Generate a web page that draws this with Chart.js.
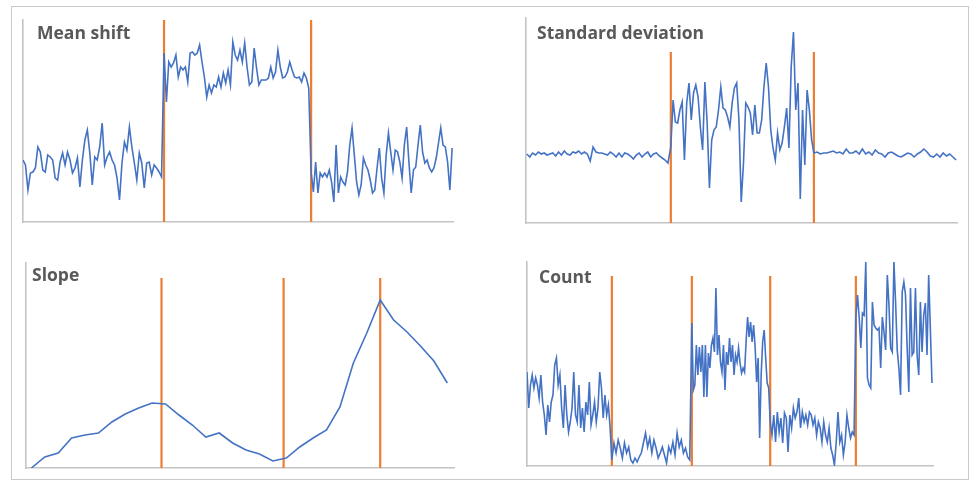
<!DOCTYPE html>
<html>
<head>
<meta charset="utf-8">
<script src="https://cdn.jsdelivr.net/npm/chart.js@4.4.1/dist/chart.umd.min.js"></script>
<style>
  html, body { margin: 0; padding: 0; background: #fff; }
  body { width: 971px; height: 481px; position: relative; overflow: hidden; }
  .frame { position: absolute; left: 11px; top: 6px; width: 956px; height: 472px; border: 1px solid #cacaca; }
  canvas { position: absolute; }
  .ttl { position: absolute; font-family: "Open Sans", sans-serif; font-weight: 700; font-size: 17.5px; line-height: 18px; color: #595959; white-space: nowrap; }
</style>
</head>
<body>
<div class="frame"></div>
<canvas id="cMean" width="438" height="210" style="left:19px;top:16px"></canvas>
<canvas id="cStd" width="439" height="213" style="left:522px;top:14px"></canvas>
<canvas id="cSlope" width="436" height="213" style="left:22px;top:259px"></canvas>
<canvas id="cCount" width="414" height="212" style="left:523px;top:258px"></canvas>
<div class="ttl" style="left:37px;top:23px">Mean shift</div>
<div class="ttl" style="left:537px;top:23px">Standard deviation</div>
<div class="ttl" style="left:32px;top:265px">Slope</div>
<div class="ttl" style="left:539px;top:267px">Count</div>
<script>
// values (height above the x axis, arbitrary units)
const meanSeg1 = [62,57,32,49,50,54,75,70,52,50,67,65,62,44,42,60,69,57,70,62,49,54,64,35,62,82,92,69,37,65,62,75,99,57,65,70,62,57,44,22,59,80,72,95,75,59,42,69,59,34,59,60,47,57,54,50,45];
const meanSeg2 = [169,120,160,155,159,167,145,155,152,155,140,169,170,167,169,177,160,145,125,137,129,137,135,145,135,149,139,152,137,180,167,162,172,160,179,155,137,140,174,154,137,142,142,142,144,155,144,150,172,155,144,145,150,160,152,145,144,145,140,149,144,134];
const meanSeg3 = [50,30,60,29,49,45,49,45,52,40,20,77,29,45,40,37,50,77,94,67,40,27,37,64,57,52,42,29,32,54,74,44,29,67,89,70,52,72,70,60,44,77,95,60,29,52,55,77,97,70,59,62,54,50,54,64,79,94,77,75,60,32,74];
const meanBounds = [0, 32.8, 67.0, 99.8];

const stdSeg1 = [69,66,70,68,71,69,70,68,69,70,67,71,68,72,69,68,71,70,72,69,71,69,62,76,71,70,70,69,68,71,69,66,70,66,70,69,67,64,68,70,66,69,71,66,69,70,67,65,63,60];
const stdSeg2 = [76,123,101,100,113,121,63,120,140,103,130,138,126,96,73,141,100,35,83,93,96,113,136,115,113,106,96,120,135,140,103,21,60,120,116,110,88,118,90,90,103,136,160,136,93,75,63,90,73,80,96,115,75,156,191,113,140,24,113,58,133,113,83];
const stdSeg3 = [70,71,69,70,70,71,72,70,71,69,74,70,70,72,69,74,69,71,68,73,70,69,66,70,71,69,67,66,68,70,69,66,69,71,74,71,67,66,69,66,70,67,69,66,63];
const stdBounds = [0.2, 33.6, 66.8, 99.8];

const slopeValues = [0,11,15,30,33,35,46,54,60,65,64,53,43,31,35,25,18,14,7,10,21,30,38,61,105,135,168,148,136,122,107,85];
const slopeChanges = [9.7, 18.8, 26.0];

const countSeg1 = [94,58,81,91,78,88,81,68,91,64,51,31,61,44,64,71,101,108,81,91,58,38,81,51,34,44,58,94,51,44,81,38,58,34,64,51,84,41,51,64,44,58,94,78,48,71,51,61,38];
const countSeg2 = [6,23,13,26,18,8,23,13,19,6,3,8,4,9,13,23,33,19,28,13,26,18,8,13,19,11,3,19,13,24,11,33,19,26,13,18,9,6];
const countSeg3 = [143,76,81,121,91,119,94,121,69,121,69,113,98,121,128,114,178,111,131,104,94,121,76,114,101,128,104,121,91,111,104,118,103,93,98,94,124,149,129,144,124,141,119,84,108,28,91,124,136,108,83,78];
const countSeg4 = [44,31,51,24,54,34,48,23,53,48,14,51,38,58,48,54,68,38,54,44,51,41,54,51,41,48,31,44,38,24,44,31,24,38,18,11,1,24,54,24,31,11,24,51,38,28,34,31];
const countSeg5 = [149,171,149,118,153,151,204,88,81,78,164,141,138,136,138,98,149,134,116,191,161,118,114,204,164,116,98,71,174,184,171,118,74,178,111,114,178,111,91,164,114,151,163,111,191,138,83];
const countBounds = [0, 20.9, 40.6, 59.9, 81.0, 99.75];

const BLUE = "#4472c4";
const ORANGE = "#ed7d31";
const AXIS = "#c4c4c4";

// spread each segment's samples evenly between its change points
function segmentPoints(segments, bounds) {
  const pts = [];
  segments.forEach((seg, k) => {
    const a = bounds[k], b = bounds[k + 1];
    const last = k === segments.length - 1;
    const step = last ? (b - a) / (seg.length - 1) : (b - a) / seg.length;
    seg.forEach((v, j) => pts.push({ x: a + j * step, y: v }));
  });
  return pts;
}

function seriesDataset(data) {
  return { data, borderColor: BLUE, borderWidth: 1.6, pointRadius: 0, tension: 0, fill: false };
}

function changeDatasets(changes, top) {
  return changes.map(c => ({
    data: [{ x: c, y: 0 }, { x: c, y: top }],
    borderColor: ORANGE,
    borderWidth: 2.2,
    pointRadius: 0,
    fill: false,
  }));
}

function makePanel(id, datasets, xMin, xMax, yMax) {
  const axis = {
    grid: { display: false, drawTicks: false },
    ticks: { display: false },
    border: { display: true, color: AXIS, width: 1.6 },
  };
  new Chart(document.getElementById(id), {
    type: "line",
    data: { datasets },
    options: {
      responsive: false,
      animation: false,
      layout: { padding: 4 },
      plugins: { legend: { display: false }, tooltip: { enabled: false } },
      scales: {
        x: { type: "linear", min: xMin, max: xMax, ...axis },
        y: { type: "linear", min: 0, max: yMax, ...axis },
      },
    },
  });
}

makePanel("cMean", [
  seriesDataset(segmentPoints([meanSeg1, meanSeg2, meanSeg3], meanBounds)),
  ...changeDatasets(meanBounds.slice(1, -1), 202),
], 0, 100, 202);

makePanel("cStd", [
  seriesDataset(segmentPoints([stdSeg1, stdSeg2, stdSeg3], stdBounds)),
  ...changeDatasets(stdBounds.slice(1, -1), 171),
], 0, 100, 205);

makePanel("cSlope", [
  seriesDataset(slopeValues.map((v, i) => ({ x: i, y: v }))),
  ...changeDatasets(slopeChanges, 190),
], -0.4, 31.5, 205);

makePanel("cCount", [
  seriesDataset(segmentPoints([countSeg1, countSeg2, countSeg3, countSeg4, countSeg5], countBounds)),
  ...changeDatasets(countBounds.slice(1, -1), 190),
], 0, 100, 204);
</script>
</body>
</html>
